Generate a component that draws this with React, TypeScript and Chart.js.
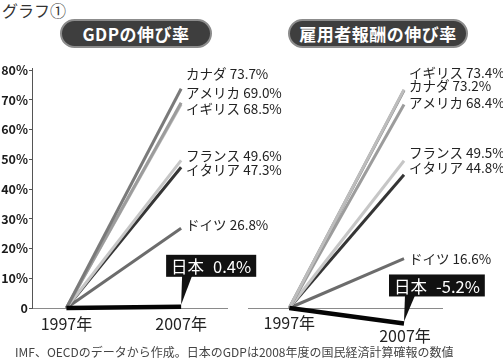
import React, { useEffect, useRef } from 'react';
import { Chart, registerables } from 'chart.js';

Chart.register(...registerables);

// ---- data ----
const YEARS = [1997, 2007];
const Y_TICKS = [0, 10, 20, 30, 40, 50, 60, 70, 80];
const GDP_COUNTRIES = ['日本', 'カナダ', 'アメリカ', 'イギリス', 'フランス', 'イタリア', 'ドイツ'];
const GDP_GROWTH = [0.4, 73.7, 69.0, 68.5, 49.6, 47.3, 26.8];
const COMP_COUNTRIES = ['日本', 'イギリス', 'カナダ', 'アメリカ', 'フランス', 'イタリア', 'ドイツ'];
const COMP_GROWTH = [-5.2, 73.4, 73.2, 68.4, 49.5, 44.8, 16.6];

const PAGE_TITLE = 'グラフ①';
const GDP_TITLE = 'GDPの伸び率';
const COMP_TITLE = '雇用者報酬の伸び率';
const FOOTNOTE = 'IMF、OECDのデータから作成。日本のGDPは2008年度の国民経済計算確報の数値';
const YEAR_SUFFIX = '年';

// ---- style ----
const FONT = '"Noto Sans CJK JP", "Noto Sans", sans-serif';
const W = 503;
const H = 361;
const COLORS: Record<string, string> = {
  日本: '#050505',
  カナダ: '#7a7a7a',
  アメリカ: '#9c9c9c',
  イギリス: '#bdbdbd',
  フランス: '#c6c6c6',
  イタリア: '#353535',
  ドイツ: '#6c6c6c',
};
const LEFT_LABEL_DY: Record<string, number> = {
  カナダ: -15, アメリカ: -10, イギリス: 5, フランス: -5, イタリア: 3, ドイツ: -3,
};
const RIGHT_LABEL_DY: Record<string, number> = {
  イギリス: -17, カナダ: -4, アメリカ: -1.5, フランス: -8, イタリア: -7, ドイツ: 0,
};

const fmt = (v: number) => `${v.toFixed(1)}%`;

type PanelStyle = {
  labelDy: Record<string, number>;
  calloutGap: number;
  drawBaseYears: boolean;
};

function makePlugin(style: PanelStyle) {
  return {
    id: 'panelDecor',
    beforeDatasetsDraw(chart: any) {
      if (!style.drawBaseYears) return;
      const { ctx, chartArea } = chart;
      const ys = chart.scales.y;
      const y0 = Math.round(ys.getPixelForValue(0)) + 0.5;
      ctx.save();
      ctx.strokeStyle = '#8a8a8a';
      ctx.lineWidth = 1;
      ctx.beginPath();
      ctx.moveTo(chartArea.left, y0);
      ctx.lineTo(chartArea.right, y0);
      ctx.stroke();
      ctx.restore();
    },
    afterDatasetsDraw(chart: any) {
      const { ctx } = chart;
      const xs = chart.scales.x;
      const ys = chart.scales.y;
      ctx.save();
      chart.data.datasets.forEach((ds: any) => {
        const name = ds.label as string;
        const v = ds.data[1].y as number;
        const px = xs.getPixelForValue(YEARS[1]);
        const py = ys.getPixelForValue(v);
        if (name === '日本') {
          ctx.font = `16.5px ${FONT}`;
          const valText = fmt(v);
          const wName = ctx.measureText(name).width;
          const wVal = ctx.measureText(valText).width;
          const gap = 9;
          const padX = 5;
          const bw = wName + gap + wVal + padX * 2;
          const bh = 22;
          const bx = px - 15;
          const bBottom = py - style.calloutGap;
          const by = bBottom - bh;
          ctx.fillStyle = '#111';
          ctx.fillRect(bx, by, bw, bh);
          ctx.beginPath();
          ctx.moveTo(px + 1, bBottom - 1);
          ctx.lineTo(px + 11, bBottom - 1);
          ctx.lineTo(px, py - 2);
          ctx.closePath();
          ctx.fill();
          ctx.fillStyle = '#fff';
          ctx.textBaseline = 'middle';
          ctx.textAlign = 'left';
          ctx.fillText(name, bx + padX, by + bh / 2 + 1);
          ctx.fillText(valText, bx + padX + wName + gap, by + bh / 2 + 1);
        } else {
          ctx.font = `13.5px ${FONT}`;
          ctx.fillStyle = '#222';
          ctx.textBaseline = 'middle';
          ctx.textAlign = 'left';
          ctx.fillText(`${name} ${fmt(v)}`, px + 5, py + (style.labelDy[name] || 0));
        }
      });
      if (style.drawBaseYears) {
        const japan = chart.data.datasets.find((d: any) => d.label === '日本');
        ctx.font = `16px ${FONT}`;
        ctx.fillStyle = '#222';
        ctx.textAlign = 'center';
        ctx.textBaseline = 'middle';
        ctx.fillText(`${YEARS[0]}${YEAR_SUFFIX}`, xs.getPixelForValue(YEARS[0]), ys.getPixelForValue(0) + 15);
        const endY = japan ? ys.getPixelForValue(japan.data[1].y) : ys.getPixelForValue(0);
        ctx.fillText(`${YEARS[1]}${YEAR_SUFFIX}`, xs.getPixelForValue(YEARS[1]) + 1, endY + 12);
      }
      ctx.restore();
    },
  };
}

function buildDatasets(names: string[], values: number[]) {
  return names.map((name, i) => ({
    label: name,
    data: [
      { x: YEARS[0], y: 0 },
      { x: YEARS[1], y: values[i] },
    ],
    borderColor: COLORS[name],
    borderWidth: name === '日本' ? 4.5 : 3,
    pointRadius: 0,
    tension: 0,
    fill: false,
    order: i,
    clip: false as any,
  }));
}

const PX_PER_PCT = 2.975;

export default function App() {
  const leftRef = useRef<HTMLCanvasElement>(null);
  const rightRef = useRef<HTMLCanvasElement>(null);

  useEffect(() => {
    const leftBottom = 308;
    const top = 68;
    const yMax = (leftBottom - top) / PX_PER_PCT;

    const left = new Chart(leftRef.current as HTMLCanvasElement, {
      type: 'line',
      data: { datasets: buildDatasets(GDP_COUNTRIES, GDP_GROWTH) as any },
      options: {
        animation: false,
        responsive: false,
        devicePixelRatio: 1,
        layout: { padding: { top, left: 0, right: W - 227, bottom: H - leftBottom - 30 } },
        plugins: { legend: { display: false }, tooltip: { enabled: false } },
        scales: {
          x: {
            type: 'linear',
            min: 1994,
            max: 2011,
            afterBuildTicks: (s: any) => { s.ticks = YEARS.map((v) => ({ value: v })); },
            afterFit: (s: any) => { s.height = 30; },
            grid: { drawOnChartArea: false, drawTicks: false },
            border: { display: true, color: '#8a8a8a', width: 1 },
            ticks: {
              padding: 6,
              color: '#222',
              font: { family: FONT, size: 16 },
              callback: (v: any) => `${v}${YEAR_SUFFIX}`,
            },
          },
          y: {
            type: 'linear',
            min: 0,
            max: yMax,
            afterBuildTicks: (s: any) => { s.ticks = Y_TICKS.map((v) => ({ value: v })); },
            afterFit: (s: any) => { s.width = 32; },
            grid: { drawOnChartArea: false, drawTicks: true, tickLength: 3, color: '#555' },
            border: { display: true, color: '#555', width: 1 },
            ticks: {
              padding: 1,
              color: '#1a1a1a',
              font: { family: FONT, size: 12.5, weight: 'bold' },
              callback: (v: any) => (v === 0 ? '0' : `${v}%`),
            },
          },
        },
      },
      plugins: [makePlugin({ labelDy: LEFT_LABEL_DY, calloutGap: 30, drawBaseYears: false })],
    });

    const yMin = -8;
    const rightBottom = leftBottom - yMin * PX_PER_PCT;
    const right = new Chart(rightRef.current as HTMLCanvasElement, {
      type: 'line',
      data: { datasets: buildDatasets(COMP_COUNTRIES, COMP_GROWTH) as any },
      options: {
        animation: false,
        responsive: false,
        devicePixelRatio: 1,
        layout: { padding: { top, left: 248, right: W - 443, bottom: H - rightBottom } },
        plugins: { legend: { display: false }, tooltip: { enabled: false } },
        scales: {
          x: { type: 'linear', display: false, min: 1993.4, max: 2010.4 },
          y: { type: 'linear', display: false, min: yMin, max: yMax },
        },
      },
      plugins: [makePlugin({ labelDy: RIGHT_LABEL_DY, calloutGap: 27, drawBaseYears: true })],
    });

    return () => {
      left.destroy();
      right.destroy();
    };
  }, []);

  const pill = (x: number, w: number, text: string) => (
    <div
      style={{
        position: 'absolute',
        left: x,
        top: 19,
        width: w,
        height: 29,
        boxSizing: 'border-box',
        borderRadius: 15,
        background: '#3e3e3e',
        border: '2px solid #8c8c8c',
        color: '#fff',
        fontWeight: 'bold',
        fontSize: 17,
        display: 'flex',
        alignItems: 'center',
        justifyContent: 'center',
        letterSpacing: 0.5,
      }}
    >
      {text}
    </div>
  );

  return (
    <div
      style={{
        position: 'absolute',
        left: 0,
        top: 0,
        width: W,
        height: H,
        background: '#fff',
        overflow: 'hidden',
        fontFamily: FONT,
      }}
    >
      <div style={{ position: 'absolute', left: 2, top: 0, fontSize: 16, lineHeight: '20px', color: '#333' }}>
        {PAGE_TITLE}
      </div>
      {pill(60, 152, GDP_TITLE)}
      {pill(288, 180, COMP_TITLE)}
      <canvas ref={leftRef} width={W} height={H} style={{ position: 'absolute', left: 0, top: 0 }} />
      <canvas ref={rightRef} width={W} height={H} style={{ position: 'absolute', left: 0, top: 0 }} />
      <div
        style={{
          position: 'absolute',
          left: 15,
          top: 344,
          fontSize: 12,
          lineHeight: '16px',
          color: '#444',
          whiteSpace: 'nowrap',
        }}
      >
        {FOOTNOTE}
      </div>
    </div>
  );
}
